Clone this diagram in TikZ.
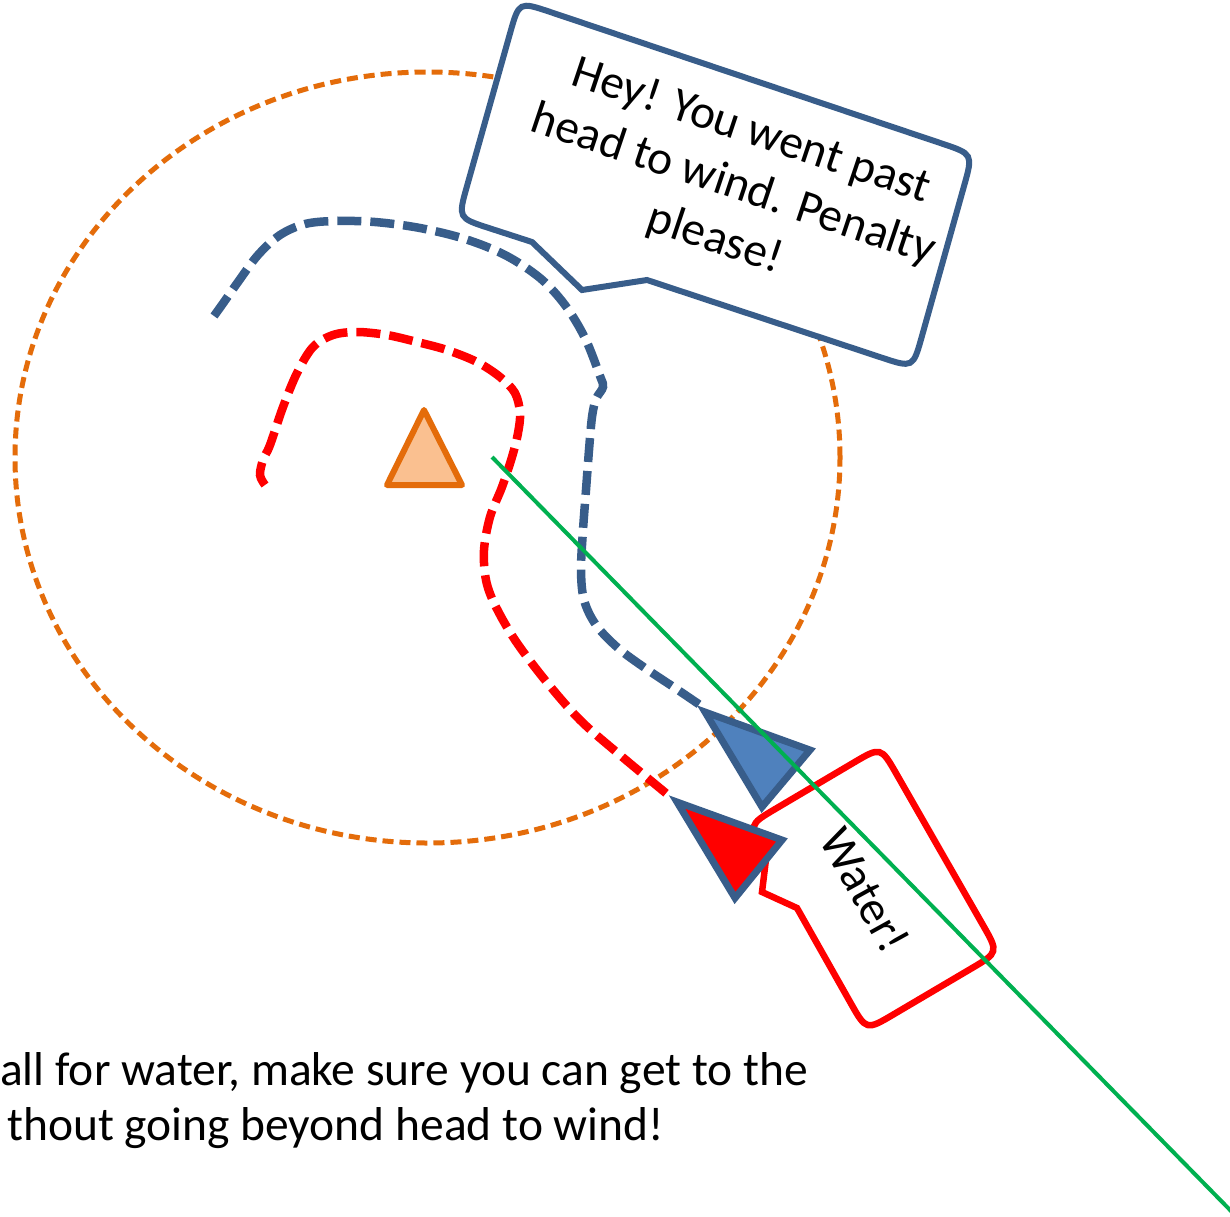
\documentclass[tikz,border=0pt]{standalone}
\usepackage{fontspec}
\setmainfont{Carlito}
\usetikzlibrary{calc}
\definecolor{orng}{HTML}{E46C0A}
\definecolor{orngfill}{HTML}{FAC090}
\definecolor{bdark}{HTML}{385D8A}
\definecolor{bfill}{HTML}{4F81BD}
\definecolor{grn}{HTML}{00B050}
\definecolor{rd}{HTML}{FF0000}
\begin{document}
\begin{tikzpicture}[x=1pt,y=-1pt,
  bigtext/.style={font=\fontsize{47.5}{57}\selectfont, inner sep=0pt},
  markline/.style={orng, line width=5pt, dash pattern=on 11pt off 6pt},
  trackblue/.style={bdark, line width=8.5pt, dash pattern=on 24pt off 9pt, line cap=butt},
  trackred/.style={rd, line width=8.5pt, dash pattern=on 24pt off 9pt, line cap=butt},
  boat/.style={bdark, line width=7pt, line join=miter},
  bubble/.style={bdark, line width=6pt, fill=white, line join=miter},
  waterbox/.style={rd, line width=6.5pt, fill=white, line join=miter}]
\useasboundingbox (0,0) rectangle (1230,1216);
\fill[white] (0,0) rectangle (1230,1216);

% zone circle
\draw[markline] (427.5,457.5) ellipse [x radius=412.5pt, y radius=385.5pt];

% mark
\draw[orng, fill=orngfill, line width=6pt, line join=round] (424,410) -- (462,485) -- (387,485) -- cycle;

% tracks
\draw[trackblue] plot[smooth, tension=0.55] coordinates {(214,316) (224,302) (238,282) (258,255) (280,235) (305,224) (335,221) (375,222) (420,228) (465,239) (505,255) (540,278) (565,305) (585,338) (600,376) (603,387) (596,399) (592,417) (589,450) (586,490) (583,530) (581,570) (584,600) (596,625) (618,648) (645,668) (675,688) (703,707)};
\draw[trackred] plot[smooth, tension=0.55] coordinates {(265,485) (260,475) (263,460) (270,445) (283,407) (297,373) (313,347) (333,335) (357,332) (387,335) (417,342) (447,350) (477,362) (500,377) (515,393) (520,413) (518,433) (512,457) (502,487) (490,517) (484,550) (486,580) (495,605) (515,640) (545,680) (580,720) (620,755) (667,794)};

% speech bubble
\coordinate (bTL) at (519,1.5);
\coordinate (bTR) at (973,154);
\coordinate (bBR) at (913,368);
\coordinate (bBL) at (458,218);
\coordinate (bP1) at (532,242);
\coordinate (bP2) at (582,290);
\coordinate (bP3) at (647,280);
\draw[bubble] (bP1) -- (bP2) -- (bP3)
  -- ($(bBR)!33pt!(bP3)$) .. controls (bBR) .. ($(bBR)!33pt!(bTR)$)
  -- ($(bTR)!33pt!(bBR)$) .. controls (bTR) .. ($(bTR)!33pt!(bTL)$)
  -- ($(bTL)!33pt!(bTR)$) .. controls (bTL) .. ($(bTL)!33pt!(bBL)$)
  -- ($(bBL)!33pt!(bTL)$) .. controls (bBL) .. ($(bBL)!33pt!(bP1)$)
  -- cycle;
\node[bigtext, rotate=-18.5, align=center] (hey) at (733,186) {Hey! You went past\\head to wind. Penalty\\please!};

% water callout
\coordinate (wAB) at (880.8,746.6);
\coordinate (wBC) at (998.6,952.4);
\coordinate (wCD) at (866.2,1030.5);
\coordinate (wDA) at (748.6,824.7);
\coordinate (wQ) at (766.4,856);
\coordinate (wP2) at (762,892);
\coordinate (wP1) at (797,908);
\draw[waterbox] (wP1)
  -- ($(wCD)!32pt!(wP1)$) .. controls (wCD) .. ($(wCD)!32pt!(wBC)$)
  -- ($(wBC)!32pt!(wCD)$) .. controls (wBC) .. ($(wBC)!32pt!(wAB)$)
  -- ($(wAB)!32pt!(wBC)$) .. controls (wAB) .. ($(wAB)!32pt!(wDA)$)
  -- ($(wDA)!32pt!(wAB)$) .. controls (wDA) .. ($(wDA)!32pt!(wQ)$)
  -- (wQ) -- (wP2) -- cycle;
\node[bigtext, rotate=-61] (water) at (865,890) {Water!};

% boats
\draw[boat, fill=bfill] (705,712) -- (810,750) -- (762,807) -- cycle;
\draw[boat, fill=rd] (677,802) -- (782,840) -- (735,898) -- cycle;

% layline
\coordinate (g1) at (492,457);
\coordinate (g2) at (1233,1213);
\draw[grn, line width=4pt] (g1) -- (g2);

% caption
\node[bigtext, anchor=base west] (cap1) at (0,1085) {all for water, make sure you can get to the};
\node[bigtext, anchor=base west] (cap2) at (7,1140) {thout going beyond head to wind!};
\end{tikzpicture}
\end{document}
